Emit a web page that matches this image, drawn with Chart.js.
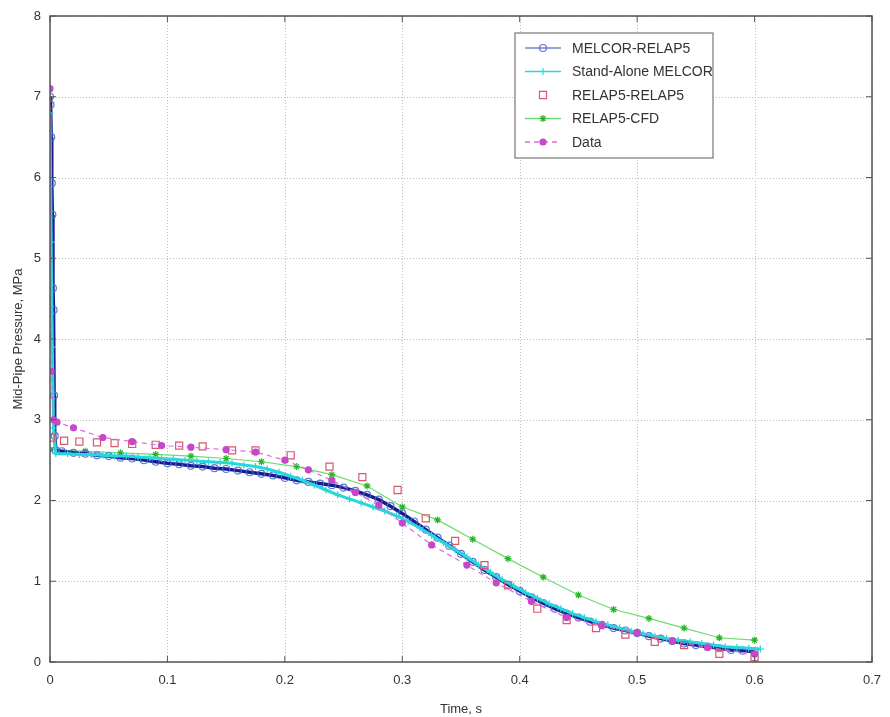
<!DOCTYPE html>
<html>
<head>
<meta charset="utf-8">
<script src="https://cdn.jsdelivr.net/npm/chart.js@4.4.0/dist/chart.umd.min.js"></script>
<style>
  html, body { margin: 0; padding: 0; background: #fff; }
  #wrap { width: 890px; height: 717px; }
</style>
</head>
<body>
<div id="wrap"><canvas id="pipeChart"></canvas></div>
<script>
// values: time (s) and mid-pipe pressure (MPa)
var melcorRelapT = [0, 0.0005, 0.001, 0.0015, 0.002, 0.0025, 0.003, 0.0035, 0.004, 0.005,
  0.01, 0.02, 0.03, 0.04, 0.05, 0.06, 0.07, 0.08, 0.09, 0.10, 0.11, 0.12, 0.13, 0.14, 0.15,
  0.16, 0.17, 0.18, 0.19, 0.20, 0.21, 0.22, 0.23, 0.24, 0.25, 0.26, 0.27, 0.28, 0.29, 0.30,
  0.31, 0.32, 0.33, 0.34, 0.35, 0.36, 0.37, 0.38, 0.39, 0.40, 0.41, 0.42, 0.43, 0.44, 0.45,
  0.46, 0.47, 0.48, 0.49, 0.50, 0.51, 0.52, 0.53, 0.54, 0.55, 0.56, 0.57, 0.58, 0.59, 0.60];
var melcorRelapP = [7.0, 6.9, 6.5, 5.93, 5.54, 4.63, 4.36, 3.3, 2.8, 2.62,
  2.61, 2.59, 2.58, 2.56, 2.55, 2.53, 2.52, 2.50, 2.48, 2.46, 2.45, 2.43, 2.42, 2.40, 2.39,
  2.37, 2.35, 2.33, 2.31, 2.28, 2.25, 2.23, 2.21, 2.19, 2.16, 2.12, 2.07, 2.01, 1.93, 1.84,
  1.74, 1.64, 1.54, 1.44, 1.34, 1.24, 1.14, 1.05, 0.96, 0.88, 0.80, 0.73, 0.66, 0.60, 0.55,
  0.50, 0.46, 0.42, 0.39, 0.36, 0.32, 0.29, 0.26, 0.23, 0.21, 0.19, 0.17, 0.15, 0.14, 0.13];

var standAloneT = [0, 0.001, 0.002, 0.003, 0.005, 0.015, 0.025, 0.035, 0.045, 0.055, 0.065,
  0.075, 0.085, 0.095, 0.105, 0.115, 0.125, 0.135, 0.145, 0.155, 0.165, 0.175, 0.185, 0.195,
  0.205, 0.215, 0.225, 0.235, 0.245, 0.255, 0.265, 0.275, 0.285, 0.295, 0.305, 0.315, 0.325,
  0.335, 0.345, 0.355, 0.365, 0.375, 0.385, 0.395, 0.405, 0.415, 0.425, 0.435, 0.445, 0.455,
  0.465, 0.475, 0.485, 0.495, 0.505, 0.515, 0.525, 0.535, 0.545, 0.555, 0.565, 0.575, 0.585,
  0.595, 0.605];
var standAloneP = [6.8, 5.2, 3.9, 2.9, 2.58, 2.58, 2.57, 2.57, 2.56, 2.55, 2.55,
  2.54, 2.53, 2.52, 2.51, 2.50, 2.49, 2.48, 2.47, 2.46, 2.44, 2.42, 2.39, 2.35,
  2.30, 2.25, 2.19, 2.13, 2.07, 2.02, 1.97, 1.92, 1.87, 1.81, 1.74, 1.66, 1.57,
  1.48, 1.39, 1.30, 1.20, 1.11, 1.02, 0.94, 0.86, 0.79, 0.72, 0.66, 0.60, 0.55,
  0.50, 0.46, 0.42, 0.38, 0.35, 0.32, 0.29, 0.27, 0.25, 0.23, 0.21, 0.19, 0.18,
  0.17, 0.16];

var relapRelapT = [0.001, 0.012, 0.025, 0.04, 0.055, 0.07, 0.09, 0.11, 0.13, 0.155, 0.175,
  0.205, 0.238, 0.266, 0.296, 0.32, 0.345, 0.37, 0.39, 0.415, 0.44, 0.465, 0.49, 0.515,
  0.54, 0.57, 0.6];
var relapRelapP = [2.78, 2.74, 2.73, 2.72, 2.71, 2.70, 2.69, 2.68, 2.67, 2.62, 2.62,
  2.56, 2.42, 2.29, 2.13, 1.78, 1.50, 1.20, 0.95, 0.66, 0.52, 0.42, 0.34, 0.25,
  0.21, 0.10, 0.06];

var relapCfdT = [0, 0.03, 0.06, 0.09, 0.12, 0.15, 0.18, 0.21, 0.24, 0.27, 0.30, 0.33,
  0.36, 0.39, 0.42, 0.45, 0.48, 0.51, 0.54, 0.57, 0.60];
var relapCfdP = [2.63, 2.61, 2.59, 2.57, 2.55, 2.52, 2.48, 2.42, 2.32, 2.18, 1.92, 1.76,
  1.52, 1.28, 1.05, 0.83, 0.65, 0.54, 0.42, 0.30, 0.27];

var dataT = [0, 0.001, 0.003, 0.006, 0.02, 0.045, 0.07, 0.095, 0.12, 0.15, 0.175, 0.2,
  0.22, 0.24, 0.26, 0.28, 0.3, 0.325, 0.355, 0.38, 0.41, 0.44, 0.47, 0.5, 0.53, 0.56, 0.6];
var dataP = [7.1, 3.6, 3.0, 2.97, 2.9, 2.78, 2.73, 2.68, 2.66, 2.63, 2.6, 2.5,
  2.38, 2.25, 2.1, 1.94, 1.72, 1.45, 1.2, 0.98, 0.75, 0.55, 0.45, 0.36, 0.26, 0.18, 0.1];

var xTicks = [0, 0.1, 0.2, 0.3, 0.4, 0.5, 0.6, 0.7];
var yTicks = [0, 1, 2, 3, 4, 5, 6, 7, 8];

function pairs(ts, ps) {
  return ts.map(function (t, i) { return { x: t, y: ps[i] }; });
}

var series = [
  { label: 'MELCOR-RELAP5', data: pairs(melcorRelapT, melcorRelapP),
    borderColor: 'rgba(25, 25, 150, 1)', pointBorderColor: 'rgba(70, 110, 200, 0.9)',
    pointStyle: 'circle', pointRadius: 3.5, borderWidth: 3.5, dash: [], order: 3,
    legendLine: 'rgba(120, 130, 210, 1)' },
  { label: 'Stand-Alone MELCOR', data: pairs(standAloneT, standAloneP),
    borderColor: 'rgba(40, 215, 220, 1)', pointBorderColor: 'rgba(40, 215, 220, 1)',
    pointStyle: 'cross', pointRadius: 3.5, borderWidth: 3, dash: [], order: 2 },
  { label: 'RELAP5-RELAP5', data: pairs(relapRelapT, relapRelapP),
    borderColor: 'rgba(0, 0, 0, 0)', pointBorderColor: 'rgba(215, 90, 110, 1)',
    pointStyle: 'rect', pointRadius: 5, borderWidth: 0, dash: [], order: 1 },
  { label: 'RELAP5-CFD', data: pairs(relapCfdT, relapCfdP),
    borderColor: 'rgba(110, 220, 110, 1)', pointBorderColor: 'rgba(40, 180, 40, 1)',
    pointStyle: 'star', pointRadius: 3.5, borderWidth: 1.2, dash: [], order: 4 },
  { label: 'Data', data: pairs(dataT, dataP),
    borderColor: 'rgba(220, 110, 220, 1)', pointBorderColor: 'rgba(200, 70, 200, 1)',
    pointStyle: 'circle', pointRadius: 3, borderWidth: 1.2, dash: [5, 4], order: 0, filled: true }
];

var datasets = series.map(function (s) {
  return {
    label: s.label,
    data: s.data,
    borderColor: s.borderColor,
    backgroundColor: s.filled ? s.pointBorderColor : 'rgba(0,0,0,0)',
    pointBorderColor: s.pointBorderColor,
    pointBackgroundColor: s.filled ? s.pointBorderColor : 'rgba(255,255,255,0)',
    pointStyle: s.pointStyle,
    pointRadius: s.pointRadius,
    pointBorderWidth: 1.2,
    borderWidth: s.borderWidth,
    borderDash: s.dash,
    showLine: s.borderWidth > 0,
    tension: 0,
    order: s.order
  };
});

// MATLAB style frame, dotted grid and the boxed legend in the upper right
var framePlugin = {
  id: 'frame',
  beforeDatasetsDraw: function (chart) {
    var ctx = chart.ctx, a = chart.chartArea;
    var xs = chart.scales.x, ys = chart.scales.y;
    ctx.save();
    ctx.strokeStyle = 'rgba(175, 175, 175, 0.8)';
    ctx.lineWidth = 1;
    ctx.setLineDash([1, 2]);
    xTicks.forEach(function (v) {
      var px = Math.round(xs.getPixelForValue(v)) + 0.5;
      ctx.beginPath(); ctx.moveTo(px, a.top); ctx.lineTo(px, a.bottom); ctx.stroke();
    });
    yTicks.forEach(function (v) {
      var py = Math.round(ys.getPixelForValue(v)) + 0.5;
      ctx.beginPath(); ctx.moveTo(a.left, py); ctx.lineTo(a.right, py); ctx.stroke();
    });
    ctx.restore();
  },
  afterDraw: function (chart) {
    var ctx = chart.ctx, a = chart.chartArea;
    var xs = chart.scales.x, ys = chart.scales.y;
    ctx.save();
    ctx.strokeStyle = '#555';
    ctx.lineWidth = 1.5;
    ctx.strokeRect(a.left, a.top, a.right - a.left, a.bottom - a.top);
    ctx.lineWidth = 1;
    xTicks.forEach(function (v) {
      var px = xs.getPixelForValue(v);
      ctx.beginPath(); ctx.moveTo(px, a.bottom); ctx.lineTo(px, a.bottom - 6); ctx.stroke();
      ctx.beginPath(); ctx.moveTo(px, a.top); ctx.lineTo(px, a.top + 6); ctx.stroke();
    });
    yTicks.forEach(function (v) {
      var py = ys.getPixelForValue(v);
      ctx.beginPath(); ctx.moveTo(a.left, py); ctx.lineTo(a.left + 6, py); ctx.stroke();
      ctx.beginPath(); ctx.moveTo(a.right, py); ctx.lineTo(a.right - 6, py); ctx.stroke();
    });

    // legend box
    var bx = 515, by = 33, bw = 198, bh = 125;
    ctx.fillStyle = '#fff';
    ctx.fillRect(bx, by, bw, bh);
    ctx.strokeStyle = '#777';
    ctx.lineWidth = 1.2;
    ctx.strokeRect(bx, by, bw, bh);
    ctx.font = '14px "Liberation Sans", Arial, sans-serif';
    ctx.textBaseline = 'middle';
    series.forEach(function (s, i) {
      var y = by + 15 + i * 23.5;
      if (s.borderWidth > 0) {
        ctx.strokeStyle = s.legendLine || s.borderColor;
        ctx.lineWidth = 1.5;
        ctx.setLineDash(s.dash);
        ctx.beginPath(); ctx.moveTo(bx + 10, y); ctx.lineTo(bx + 46, y); ctx.stroke();
        ctx.setLineDash([]);
      }
      ctx.strokeStyle = s.pointBorderColor;
      ctx.fillStyle = s.filled ? s.pointBorderColor : 'rgba(255,255,255,0)';
      ctx.lineWidth = 1.2;
      Chart.helpers.drawPoint(ctx, { pointStyle: s.pointStyle, radius: s.pointRadius, borderWidth: 1.2, rotation: 0 }, bx + 28, y);
      ctx.fillStyle = '#333';
      ctx.fillText(s.label, bx + 57, y + 1);
    });
    ctx.restore();
  }
};

var ctx = document.getElementById('pipeChart').getContext('2d');
var pipeChart = new Chart(ctx, {
  type: 'line',
  data: { datasets: datasets },
  options: {
    responsive: true,
    maintainAspectRatio: false,
    animation: false,
    layout: { padding: { top: 16, right: 18, left: 0, bottom: 0 } },
    plugins: {
      legend: { display: false },
      tooltip: { enabled: false }
    },
    scales: {
      x: {
        type: 'linear',
        min: 0,
        max: 0.7,
        afterBuildTicks: function (axis) { axis.ticks = xTicks.map(function (v) { return { value: v }; }); },
        grid: { display: false },
        border: { display: false },
        ticks: {
          color: '#333',
          font: { size: 13, family: '"Liberation Sans", Arial, sans-serif' },
          padding: 3,
          maxRotation: 0,
          callback: function (v) { return String(Math.round(v * 10) / 10); }
        },
        title: {
          display: true,
          text: 'Time, s',
          color: '#333',
          font: { size: 13, family: '"Liberation Sans", Arial, sans-serif' },
          padding: { top: 3, bottom: 0 }
        },
        afterFit: function (axis) { axis.height = 55; }
      },
      y: {
        type: 'linear',
        min: 0,
        max: 8,
        afterBuildTicks: function (axis) { axis.ticks = yTicks.map(function (v) { return { value: v }; }); },
        grid: { display: false },
        border: { display: false },
        ticks: {
          color: '#333',
          font: { size: 13, family: '"Liberation Sans", Arial, sans-serif' },
          padding: 1
        },
        title: {
          display: true,
          text: 'Mid-Pipe Pressure, MPa',
          color: '#333',
          font: { size: 13, family: '"Liberation Sans", Arial, sans-serif' },
          padding: { top: 11, bottom: 0 }
        },
        afterFit: function (axis) { axis.width = 50; }
      }
    }
  },
  plugins: [framePlugin]
});
</script>
</body>
</html>
